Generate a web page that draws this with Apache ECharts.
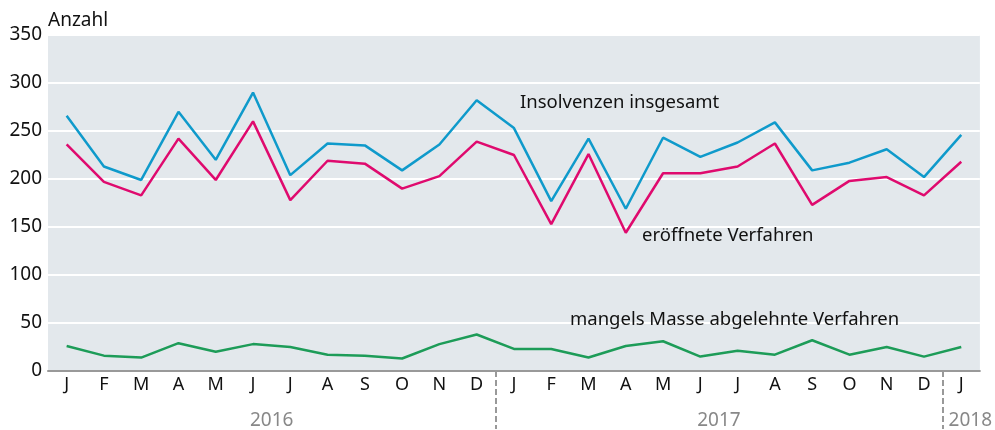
<!DOCTYPE html>
<html>
<head>
<meta charset="utf-8">
<script src="https://cdn.jsdelivr.net/npm/echarts@6/dist/echarts.min.js"></script>
<style>
  html, body { margin: 0; padding: 0; background: #fff; }
  #chart { width: 995px; height: 430px; }
</style>
</head>
<body>
<div id="chart"></div>
<script>
// months Jan 2016 .. Jan 2018
const months = ['J','F','M','A','M','J','J','A','S','O','N','D',
                'J','F','M','A','M','J','J','A','S','O','N','D','J']
const monthYear = [2016,2016,2016,2016,2016,2016,2016,2016,2016,2016,2016,2016,
                   2017,2017,2017,2017,2017,2017,2017,2017,2017,2017,2017,2017,2018]
const years = [2016, 2017, 2018]

const insgesamt = [266,213,199,270,220,290,204,237,235,209,236,282,
                   253,177,242,169,243,223,238,259,209,217,231,202,246]
const eroeffnet = [236,197,183,242,199,260,178,219,216,190,203,239,
                   225,153,226,144,206,206,213,237,173,198,202,183,218]
const mangels = [26,16,14,29,20,28,25,17,16,13,28,38,
                 23,23,14,26,31,15,21,17,32,17,25,15,25]

const yTicks = [0, 350, 50]

// year centres and boundaries on a 0..n scale
const yearCenter = {}
const yearBreaks = []
years.forEach(y => {
  const first = monthYear.indexOf(y)
  const last = monthYear.lastIndexOf(y)
  yearCenter[y] = (first + last + 1) / 2
  if (first > 0) yearBreaks.push(first)
})

const font = '"Noto Sans", sans-serif'
const chart = echarts.init(document.getElementById('chart'))

chart.setOption({
  animation: false,
  grid: {
    left: 48, right: 14, top: 35, bottom: 58,
    show: true, backgroundColor: '#e3e8ec', borderWidth: 0
  },
  xAxis: [
    {
      type: 'category',
      data: months,
      boundaryGap: true,
      axisLine: { lineStyle: { color: '#999', width: 2 } },
      axisTick: { show: false },
      axisLabel: { color: '#111', fontSize: 18, fontFamily: font, margin: 5, interval: 0 },
      splitLine: { show: false }
    },
    {
      type: 'value',
      position: 'bottom',
      min: 0, max: months.length,
      axisLine: { show: false },
      splitLine: { show: false },
      axisTick: {
        show: true, customValues: yearBreaks, length: 58,
        lineStyle: { color: '#999', width: 2, type: [6, 3] }
      },
      axisLabel: {
        customValues: years.map(y => yearCenter[y]),
        formatter: v => {
          const y = years.find(y => yearCenter[y] === v)
          // last (partial) year sits just right of its separator
          return y === years[years.length - 1] ? '{last|' + y + '}' : String(y)
        },
        rich: { last: { color: '#888', fontSize: 19, fontFamily: font, padding: [0, 0, 0, 18] } },
        color: '#888', fontSize: 19, fontFamily: font, margin: 40
      }
    }
  ],
  yAxis: {
    type: 'value',
    min: yTicks[0], max: yTicks[1], interval: yTicks[2],
    name: 'Anzahl',
    nameGap: 5,
    nameTextStyle: { color: '#111', fontSize: 19, fontFamily: font, align: 'left', verticalAlign: 'bottom' },
    axisLine: { show: false },
    axisTick: { show: false },
    axisLabel: { color: '#111', fontSize: 19, fontFamily: font, margin: 6 },
    splitLine: { lineStyle: { color: '#fff', width: 2 } }
  },
  series: [
    { name: 'Insolvenzen insgesamt', type: 'line', data: insgesamt, symbol: 'none',
      lineStyle: { color: '#0f9acb', width: 2.5 }, itemStyle: { color: '#0f9acb' } },
    { name: 'eröffnete Verfahren', type: 'line', data: eroeffnet, symbol: 'none',
      lineStyle: { color: '#df0a6e', width: 2.5 }, itemStyle: { color: '#df0a6e' } },
    { name: 'mangels Masse abgelehnte Verfahren', type: 'line', data: mangels, symbol: 'none',
      lineStyle: { color: '#1d9c58', width: 2.5 }, itemStyle: { color: '#1d9c58' } }
  ],
  graphic: [
    { type: 'text', z: 100, x: 520, y: 103,
      style: { text: 'Insolvenzen insgesamt', fill: '#111', font: '18.5px ' + font, verticalAlign: 'middle' } },
    { type: 'text', z: 100, x: 642, y: 236,
      style: { text: 'eröffnete Verfahren', fill: '#111', font: '18.5px ' + font, verticalAlign: 'middle' } },
    { type: 'text', z: 100, x: 570, y: 320,
      style: { text: 'mangels Masse abgelehnte Verfahren', fill: '#111', font: '18.5px ' + font, verticalAlign: 'middle' } }
  ]
})
</script>
</body>
</html>
